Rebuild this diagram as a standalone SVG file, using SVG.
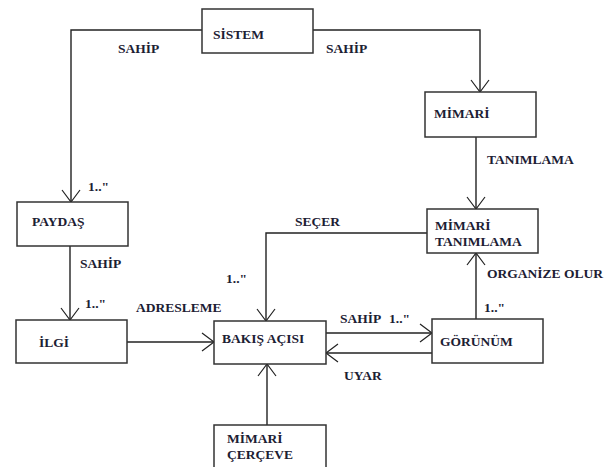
<svg xmlns="http://www.w3.org/2000/svg" width="608" height="467" viewBox="0 0 608 467">
<style>
.box{fill:#fff;stroke:#333;stroke-width:1.5}
.t{font-family:"Liberation Serif","DejaVu Serif",serif;font-weight:bold;font-size:13.5px;fill:#1c2033}
.c{fill:none;stroke:#222;stroke-width:1.4}
</style>
<defs>
<marker id="ah" markerUnits="userSpaceOnUse" markerWidth="30" markerHeight="30" refX="0" refY="0" viewBox="-15 -15 30 30" orient="auto" overflow="visible">
<path d="M-12,-9 L0,0 L-12,9" fill="none" stroke="#222" stroke-width="1.2"/>
</marker>
</defs>
<rect width="608" height="467" fill="#fff"/>
<g id="connectors">
<path class="c" d="M202,30 H71 V202" marker-end="url(#ah)"/>
<path class="c" d="M313,30 H480 V92" marker-end="url(#ah)"/>
<path class="c" d="M476,137 V209" marker-end="url(#ah)"/>
<path class="c" d="M70,246 V320" marker-end="url(#ah)"/>
<path class="c" d="M127,342 H214" marker-end="url(#ah)"/>
<path class="c" d="M427,233 H266 V321" marker-end="url(#ah)"/>
<path class="c" d="M326,333 H432" marker-end="url(#ah)"/>
<path class="c" d="M432,353 H326" marker-end="url(#ah)"/>
<path class="c" d="M476,319 V253" marker-end="url(#ah)"/>
<path class="c" d="M267,425 V364" marker-end="url(#ah)"/>
<text class="t" x="118" y="53">SAHİP</text>
<text class="t" x="326" y="53">SAHİP</text>
<text class="t" x="487" y="164">TANIMLAMA</text>
<text class="t" x="88" y="191">1.."</text>
<text class="t" x="80" y="268">SAHİP</text>
<text class="t" x="85" y="308">1.."</text>
<text class="t" x="136" y="312">ADRESLEME</text>
<text class="t" x="295" y="226">SEÇER</text>
<text class="t" x="226" y="283">1.."</text>
<text class="t" x="340" y="323">SAHİP</text>
<text class="t" x="389" y="323">1.."</text>
<text class="t" x="344" y="380">UYAR</text>
<text class="t" x="487" y="278">ORGANİZE OLUR</text>
<text class="t" x="484" y="312">1.."</text>
</g>
<g id="sistem"><rect class="box" x="202" y="9" width="111" height="44"/><text class="t" x="213" y="39">SİSTEM</text></g>
<g id="mimari"><rect class="box" x="425" y="92" width="111" height="45"/><text class="t" x="434" y="118">MİMARİ</text></g>
<g id="mimari-tanimlama"><rect class="box" x="427" y="209" width="111" height="44"/><text class="t" x="435" y="230">MİMARİ</text><text class="t" x="435" y="246">TANIMLAMA</text></g>
<g id="paydas"><rect class="box" x="17" y="202" width="111" height="44"/><text class="t" x="32" y="226">PAYDAŞ</text></g>
<g id="ilgi"><rect class="box" x="16" y="320" width="111" height="43"/><text class="t" x="39" y="347">İLGİ</text></g>
<g id="bakis-acisi"><rect class="box" x="214" y="321" width="112" height="43"/><text class="t" x="222" y="343">BAKIŞ AÇISI</text></g>
<g id="gorunum"><rect class="box" x="432" y="319" width="111" height="44"/><text class="t" x="440" y="346">GÖRÜNÜM</text></g>
<g id="mimari-cerceve"><rect class="box" x="214" y="425" width="112" height="50"/><text class="t" x="227" y="443">MİMARİ</text><text class="t" x="227" y="459">ÇERÇEVE</text></g>
</svg>
